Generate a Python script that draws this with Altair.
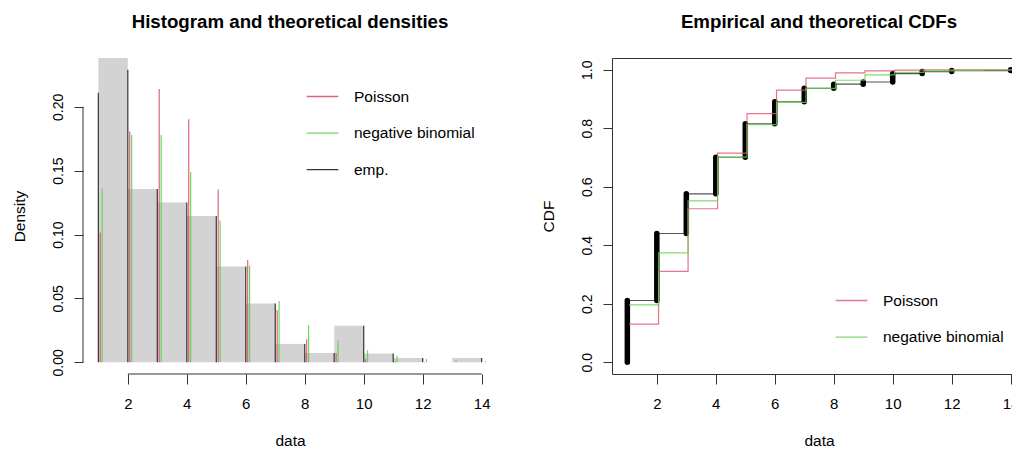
import altair as alt
import pandas as pd

FONT = "Liberation Sans"

# ---------------- data ----------------
x_vals = list(range(1, 15))
emp_pmf = [0.211, 0.229, 0.1357, 0.125, 0.1146, 0.075, 0.046, 0.0144, 0.0073, 0.0287, 0.0068, 0.0034, 0.0, 0.0034]
pois_pmf = [0.1016, 0.1806, 0.2140, 0.1902, 0.1352, 0.0801, 0.0407, 0.0181, 0.0071, 0.0025, 0.0008, 0.0002, 0.0001, 0.0]
nb_pmf = [0.1360, 0.1780, 0.1780, 0.1490, 0.1110, 0.0758, 0.0480, 0.0290, 0.0170, 0.0094, 0.0052, 0.0027, 0.0016, 0.0008]

hist_left = list(range(1, 14))
hist_right = list(range(2, 15))
hist_density = [0.44, 0.1357, 0.125, 0.1146, 0.075, 0.046, 0.0144, 0.0073, 0.0287, 0.0068, 0.0034, 0.0, 0.0034]

emp_cdf = [0.211, 0.440, 0.5757, 0.7007, 0.8153, 0.8903, 0.9363, 0.9507, 0.958, 0.9867, 0.9935, 0.9969, 0.9969, 1.0]
emp_cdf_prev = [0.0, 0.211, 0.440, 0.5757, 0.7007, 0.8153, 0.8903, 0.9363, 0.9507, 0.958, 0.9867, 0.9935, 0.9969, 0.9969]
pois_cdf = [0.1302, 0.3108, 0.5248, 0.7150, 0.8502, 0.9303, 0.9710, 0.9891, 0.9962, 0.9987, 0.9995, 0.9997, 0.9998, 0.9999]
nb_cdf = [0.196, 0.374, 0.552, 0.701, 0.812, 0.888, 0.936, 0.964, 0.982, 0.991, 0.996, 0.998, 0.999, 0.9995]

x_ticks = [2, 4, 6, 8, 10, 12, 14]
dens_ticks = [0.0, 0.05, 0.10, 0.15, 0.20]
cdf_ticks = [0.0, 0.2, 0.4, 0.6, 0.8, 1.0]

series_names = ["Poisson", "negative binomial", "emp."]
series_colors = ["#DF536B", "#61D04F", "#222222"]
dens_offsets = {"emp.": 0.0, "Poisson": 0.065, "negative binomial": 0.13}
cdf_offsets = {"Poisson": 0.06, "negative binomial": 0.06}

# ---------------- tables ----------------
hist_df = pd.DataFrame({"left": hist_left, "right": hist_right, "density": hist_density})

dens_rows = []
for name, vals in [("emp.", emp_pmf), ("Poisson", pois_pmf), ("negative binomial", nb_pmf)]:
    for k, v in zip(x_vals, vals):
        if v > 0:
            dens_rows.append({"series": name, "xpos": k + dens_offsets[name], "p": v})
dens_df = pd.DataFrame(dens_rows)

cdf_rows = []
for name, vals in [("Poisson", pois_cdf), ("negative binomial", nb_cdf)]:
    for k, v in zip(x_vals, vals):
        cdf_rows.append({"series": name, "xpos": k + cdf_offsets[name], "F": v})
cdf_df = pd.DataFrame(cdf_rows)

emp_df = pd.DataFrame({"k": x_vals, "F": emp_cdf, "Fprev": emp_cdf_prev, "p": emp_pmf})
one = pd.DataFrame({"_": [0]})

# ---------------- geometry / style ----------------
W, H = 414, 316
xsc = alt.Scale(domain=[0.48, 14.52], nice=False, zero=False)
ysc_d = alt.Scale(domain=[-0.00916, 0.2382], nice=False, zero=False)
ysc_c = alt.Scale(domain=[-0.04, 1.04], nice=False, zero=False)


def x_axis():
    return alt.Axis(values=x_ticks, format="d", domain=False, grid=False,
                    tickSize=10, tickColor="#333333", tickWidth=1,
                    labelFont=FONT, labelFontSize=15, labelColor="black",
                    labelBaseline="alphabetic", labelPadding=24,
                    labelFlush=False, labelOverlap=False,
                    title="data", titleFont=FONT, titleFontSize=15.5,
                    titleFontWeight="normal", titleColor="black",
                    titleX=W / 2, titleY=71.5, titleBaseline="alphabetic",
                    titleAlign="center")


def y_axis(vals, fmt, title):
    return alt.Axis(values=vals, format=fmt, domain=False, grid=False,
                    tickSize=9, tickColor="#333333", tickWidth=1,
                    labelFont=FONT, labelFontSize=14, labelColor="black",
                    labelAngle=270, labelAlign="center", labelBaseline="alphabetic",
                    labelPadding=11.5, labelFlush=False, labelOverlap=False,
                    title=title, titleFont=FONT, titleFontSize=15.5,
                    titleFontWeight="normal", titleColor="black",
                    titleAngle=270, titleX=-58.3, titleY=H / 2,
                    titleBaseline="alphabetic", titleAlign="center")


def legend(y):
    return alt.Legend(title=None, orient="none", legendX=223, legendY=y,
                      symbolType="stroke", symbolSize=1000, symbolStrokeWidth=1.3,
                      labelFont=FONT, labelFontSize=15.5, labelColor="black",
                      labelOffset=15, rowPadding=11.6, labelLimit=0, padding=0)


def title(text):
    return alt.TitleParams(text, font=FONT, fontSize=18.7, fontWeight="bold",
                           color="black", anchor="middle", frame="group",
                           baseline="alphabetic", offset=11)


# ---------------- left panel: histogram and densities ----------------
bars = alt.Chart(hist_df).mark_rect(color="#D3D3D3", clip=True).encode(
    x=alt.X("left:Q", scale=xsc, axis=x_axis()),
    x2="right:Q",
    y=alt.Y("density:Q", scale=ysc_d, axis=y_axis(dens_ticks, ".2f", "Density")),
    y2=alt.datum(0),
)

dens_lines = alt.Chart(dens_df).mark_rule(strokeWidth=1.2, opacity=0.9).encode(
    x=alt.X("xpos:Q", scale=xsc),
    y=alt.Y("p:Q", scale=ysc_d),
    y2=alt.datum(0),
    color=alt.Color("series:N",
                    scale=alt.Scale(domain=series_names, range=series_colors),
                    legend=legend(22)),
)

x_line_left = alt.Chart(one).mark_rule(color="#333333", strokeWidth=1).encode(
    x=alt.datum(x_ticks[0], scale=xsc), x2=alt.datum(x_ticks[-1]), y=alt.value(H))
y_line_left = alt.Chart(one).mark_rule(color="#333333", strokeWidth=1).encode(
    y=alt.datum(dens_ticks[0], scale=ysc_d), y2=alt.datum(dens_ticks[-1]), x=alt.value(0))

left = alt.layer(bars, dens_lines, x_line_left, y_line_left).properties(
    width=W, height=H, title=title("Histogram and theoretical densities"),
    view=alt.ViewBackground(stroke="transparent"),
).resolve_scale(color="independent")

# ---------------- right panel: CDFs ----------------
emp_steps = alt.Chart(emp_df).mark_line(interpolate="step-after", color="#555555",
                                         strokeWidth=1.1).encode(
    x=alt.X("k:Q", scale=xsc, axis=x_axis()),
    y=alt.Y("F:Q", scale=ysc_c, axis=y_axis(cdf_ticks, ".1f", "CDF")),
)

emp_bands = alt.Chart(emp_df).transform_filter("datum.p > 0").mark_rule(
    color="black", strokeWidth=5.5, strokeCap="round").encode(
    x=alt.X("k:Q", scale=xsc),
    y=alt.Y("Fprev:Q", scale=ysc_c),
    y2="F:Q",
)

cdf_lines = alt.Chart(cdf_df).mark_line(interpolate="step-after", strokeWidth=1.2,
                                         opacity=0.8).encode(
    x=alt.X("xpos:Q", scale=xsc),
    y=alt.Y("F:Q", scale=ysc_c),
    color=alt.Color("series:N",
                    scale=alt.Scale(domain=series_names[:2], range=series_colors[:2]),
                    legend=legend(226)),
    detail="series:N",
)

right = alt.layer(emp_steps, emp_bands, cdf_lines).properties(
    width=W, height=H, title=title("Empirical and theoretical CDFs"),
    view=alt.ViewBackground(stroke="#333333", strokeWidth=1),
)

chart = alt.hconcat(left, right, spacing=43).resolve_scale(
    color="independent", x="independent", y="independent"
).properties(
    padding={"left": 12, "top": 12, "right": -15, "bottom": 0},
    background="white",
).configure(font=FONT)

chart.save("out.html", embed_options={"renderer": "svg", "actions": False})
